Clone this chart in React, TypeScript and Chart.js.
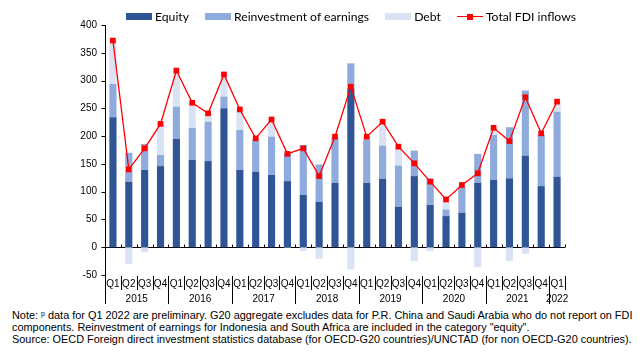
import React, { useEffect, useRef } from 'react';
import { Chart, registerables } from 'chart.js';

Chart.register(...registerables);

const quarters = [
  'Q1', 'Q2', 'Q3', 'Q4',
  'Q1', 'Q2', 'Q3', 'Q4',
  'Q1', 'Q2', 'Q3', 'Q4',
  'Q1', 'Q2', 'Q3', 'Q4',
  'Q1', 'Q2', 'Q3', 'Q4',
  'Q1', 'Q2', 'Q3', 'Q4',
  'Q1', 'Q2', 'Q3', 'Q4',
  'Q1',
];
const years = ['2015', '2016', '2017', '2018', '2019', '2020', '2021', '2022'];

const equity = [
  234, 118, 139, 146,
  195, 157, 155, 250,
  139, 136, 130, 119,
  94, 82, 116, 286,
  116, 123, 73, 128,
  76, 56, 62, 116,
  121, 124, 165, 110,
  127,
];
const reinvestment = [
  60, 52, 47, 20,
  58, 58, 71, 21,
  72, 56, 69, 50,
  90, 67, 82, 45,
  78, 60, 74, 46,
  48, 12, 47, 52,
  81, 92, 117, 92,
  117,
];
const debt = [
  78, -30, -9, 56,
  65, 45, 15, 40,
  37, 4, 31, -1,
  -7, -21, 1, -40,
  5, 43, 33, -25,
  -7, 16, 3, -36,
  13, -25, -12, 3,
  17,
];
const totalFDI = [
  372, 140, 178, 222,
  318, 260, 241, 311,
  248, 196, 230, 168,
  178, 128, 199, 289,
  199, 226, 181, 151,
  118, 86, 112, 133,
  215, 191, 270, 205,
  262,
];

const FONT = "'Liberation Sans', Arial, Helvetica, sans-serif";
const LEGEND_FONT = "Lato, 'Open Sans', sans-serif";
const C_EQUITY = '#2F5597';
const C_REINV = '#8FAADC';
const C_DEBT = '#DAE3F3';
const C_TOTAL = '#FF0000';

const framePlugin = {
  id: 'frame',
  beforeDatasetsDraw(chart: any) {
    const { ctx, chartArea, scales } = chart;
    const xs = scales.x;
    const ys = scales.y;
    const n = quarters.length;
    const y0 = Math.round(ys.getPixelForValue(0)) + 0.5;
    ctx.save();
    ctx.strokeStyle = '#000';
    ctx.lineWidth = 1;
    ctx.beginPath();
    ctx.moveTo(chartArea.left, y0);
    ctx.lineTo(chartArea.right, y0);
    for (let i = 1; i <= n; i++) {
      const bx = i === n ? chartArea.right : (xs.getPixelForValue(i - 1) + xs.getPixelForValue(i)) / 2;
      const px = Math.round(bx) + 0.5;
      ctx.moveTo(px, y0);
      ctx.lineTo(px, y0 - 3);
    }
    ctx.stroke();
    ctx.restore();
  },
  afterDatasetsDraw(chart: any) {
    const { ctx, chartArea, scales } = chart;
    const xs = scales.x;
    const ys = scales.y;
    const n = quarters.length;
    const left = Math.round(chartArea.left) + 0.5;
    const bottom = chartArea.bottom;
    ctx.save();
    ctx.strokeStyle = '#000';
    ctx.lineWidth = 1;
    ctx.beginPath();
    ctx.moveTo(left, chartArea.top);
    ctx.lineTo(left, bottom + 29);
    for (let v = ys.min; v <= ys.max; v += 50) {
      const py = Math.round(ys.getPixelForValue(v)) + 0.5;
      ctx.moveTo(left - 4, py);
      ctx.lineTo(left, py);
    }
    for (let i = 1; i <= n; i++) {
      const bx = i === n ? chartArea.right : (xs.getPixelForValue(i - 1) + xs.getPixelForValue(i)) / 2;
      const px = Math.round(bx) + 0.5;
      const isYear = i % 4 === 0 && i !== n;
      ctx.moveTo(px, bottom + 1);
      ctx.lineTo(px, bottom + (isYear ? 29 : 15));
    }
    ctx.stroke();
    ctx.fillStyle = '#000';
    ctx.font = `10px ${FONT}`;
    ctx.textAlign = 'center';
    ctx.textBaseline = 'middle';
    years.forEach((yr, k) => {
      const first = k * 4;
      const last = Math.min(k * 4 + 3, n - 1);
      const cx = (xs.getPixelForValue(first) + xs.getPixelForValue(last)) / 2;
      ctx.fillText(yr, cx, bottom + 24);
    });
    ctx.restore();
  },
};

function LegendItem({ kind, color, label }: { kind: 'box' | 'line'; color: string; label: string }) {
  return (
    <div style={{ display: 'flex', alignItems: 'center' }}>
      {kind === 'box' ? (
        <div style={{ width: 26, height: 7, background: color }} />
      ) : (
        <div style={{ position: 'relative', width: 26, height: 7 }}>
          <div style={{ position: 'absolute', left: 0, top: 3, width: 26, height: 1.5, background: color }} />
          <div style={{ position: 'absolute', left: 10, top: 1, width: 6, height: 6, background: color }} />
        </div>
      )}
      <span style={{ marginLeft: 3, whiteSpace: 'nowrap' }}>{label}</span>
    </div>
  );
}

export default function App() {
  const canvasRef = useRef<HTMLCanvasElement | null>(null);

  useEffect(() => {
    if (!canvasRef.current) return;
    const chart = new Chart(canvasRef.current, {
      type: 'bar',
      data: {
        labels: quarters,
        datasets: [
          {
            type: 'line',
            label: 'Total FDI inflows',
            data: totalFDI,
            borderColor: C_TOTAL,
            backgroundColor: C_TOTAL,
            borderWidth: 1.3,
            pointStyle: 'rect',
            pointRadius: 4,
            pointBackgroundColor: C_TOTAL,
            pointBorderWidth: 0,
            stack: 'total',
            order: 0,
            tension: 0,
          } as any,
          { type: 'bar', label: 'Equity', data: equity, backgroundColor: C_EQUITY, stack: 'bars', order: 1, barPercentage: 0.45, categoryPercentage: 1 },
          { type: 'bar', label: 'Reinvestment of earnings', data: reinvestment, backgroundColor: C_REINV, stack: 'bars', order: 1, barPercentage: 0.45, categoryPercentage: 1 },
          { type: 'bar', label: 'Debt', data: debt, backgroundColor: C_DEBT, stack: 'bars', order: 1, barPercentage: 0.45, categoryPercentage: 1 },
        ],
      },
      options: {
        responsive: false,
        maintainAspectRatio: false,
        animation: false,
        layout: { padding: { left: 0, right: 78, top: 25, bottom: 0 } },
        plugins: { legend: { display: false }, tooltip: { enabled: false } },
        scales: {
          x: {
            stacked: true,
            offset: true,
            grid: { display: false, drawTicks: false, tickLength: 0 },
            border: { display: false },
            ticks: { autoSkip: false, maxRotation: 0, minRotation: 0, padding: 3, color: '#000', font: { size: 10, family: FONT } },
            afterFit: (s: any) => { s.height = 30; },
          },
          y: {
            stacked: true,
            min: -50,
            max: 400,
            grid: { display: false, drawTicks: false, tickLength: 0 },
            border: { display: false },
            ticks: { stepSize: 50, padding: 8, color: '#000', font: { size: 10, family: FONT } },
            afterFit: (s: any) => { s.width = 105; },
          },
        },
      } as any,
      plugins: [framePlugin],
    });
    return () => chart.destroy();
  }, []);

  return (
    <div style={{ position: 'absolute', left: 0, top: 0, width: 643, height: 355, background: '#fff', overflow: 'hidden' }}>
      <canvas ref={canvasRef} width={643} height={305} style={{ position: 'absolute', left: 0, top: 0, width: 643, height: 305 }} />
      <div style={{ position: 'absolute', left: 126, top: 9, height: 14, display: 'flex', gap: 16, fontFamily: LEGEND_FONT, fontSize: 12.2, color: '#000', alignItems: 'center' }}>
        <LegendItem kind="box" color={C_EQUITY} label="Equity" />
        <LegendItem kind="box" color={C_REINV} label="Reinvestment of earnings" />
        <LegendItem kind="box" color={C_DEBT} label="Debt" />
        <LegendItem kind="line" color={C_TOTAL} label="Total FDI inflows" />
      </div>
      <div style={{ position: 'absolute', left: 12, top: 308, fontFamily: FONT, fontSize: 10.9, lineHeight: '12px', color: '#000', whiteSpace: 'nowrap' }}>
        <div>Note: <span style={{ fontSize: 7, verticalAlign: 3 }}>p</span> data for Q1 2022 are preliminary. G20 aggregate excludes data for P.R. China and Saudi Arabia who do not report on FDI</div>
        <div>components. Reinvestment of earnings for Indonesia and South Africa are included in the category "equity".</div>
        <div>Source: OECD Foreign direct investment statistics database (for OECD-G20 countries)/UNCTAD (for non OECD-G20 countries).</div>
      </div>
    </div>
  );
}
